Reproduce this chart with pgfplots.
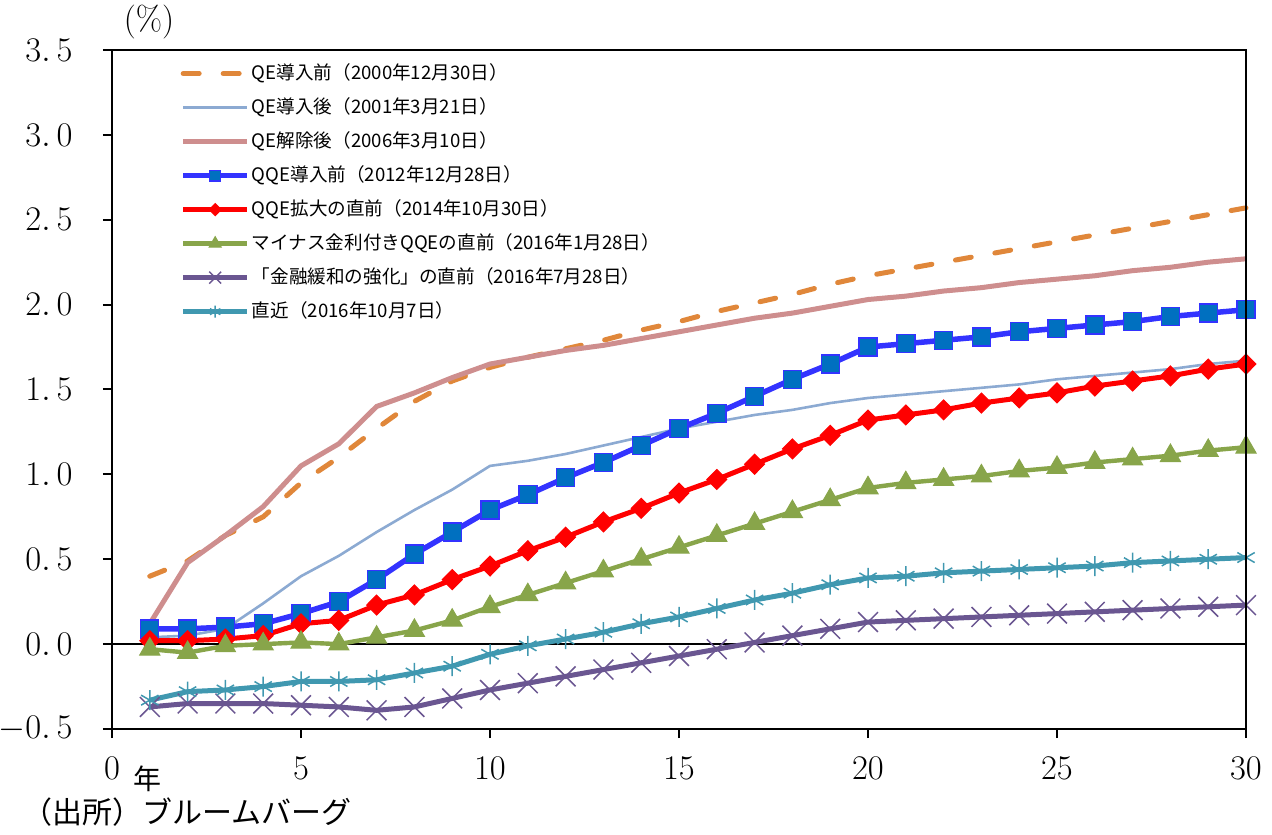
\documentclass[border=0pt]{standalone}
\usepackage{fontspec}
\usepackage{pgfplots}
\usepackage{pgfplotstable}
\pgfplotsset{compat=1.18}
\newfontfamily\cjk{Noto Sans CJK JP}

\definecolor{cOrange}{RGB}{224,135,58}
\definecolor{cLtBlue}{RGB}{140,170,210}
\definecolor{cPink}{RGB}{206,142,142}
\definecolor{cBlue}{RGB}{51,51,255}
\definecolor{cBlueFill}{RGB}{0,112,192}
\definecolor{cRed}{RGB}{255,0,0}
\definecolor{cGreen}{RGB}{136,165,74}
\definecolor{cPurple}{RGB}{106,86,145}
\definecolor{cCyan}{RGB}{64,152,176}

% 年限, 各時点の利回り (%)
\pgfplotstableread{
x  qeA   qeB   qeC   qqeA  qqeB  neg    mon    now
1  0.40  0.04  0.12  0.09  0.02  -0.03  -0.37  -0.33
2  0.49  0.05  0.48  0.09  0.02  -0.05  -0.35  -0.28
3  0.64  0.09  0.64  0.10  0.03  -0.01  -0.35  -0.27
4  0.75  0.24  0.81  0.12  0.05   0.00  -0.35  -0.25
5  0.95  0.40  1.05  0.18  0.12   0.01  -0.36  -0.22
6  1.10  0.52  1.18  0.25  0.14   0.00  -0.37  -0.22
7  1.27  0.66  1.40  0.38  0.23   0.04  -0.39  -0.21
8  1.43  0.79  1.48  0.53  0.29   0.08  -0.37  -0.17
9  1.55  0.91  1.57  0.66  0.38   0.14  -0.32  -0.13
10 1.63  1.05  1.65  0.79  0.46   0.22  -0.27  -0.06
11 1.69  1.08  1.69  0.88  0.55   0.29  -0.23  -0.01
12 1.74  1.12  1.73  0.98  0.63   0.36  -0.19   0.03
13 1.79  1.17  1.76  1.07  0.72   0.43  -0.15   0.07
14 1.85  1.22  1.80  1.17  0.80   0.50  -0.11   0.12
15 1.90  1.27  1.84  1.27  0.89   0.57  -0.07   0.16
16 1.96  1.31  1.88  1.36  0.97   0.64  -0.03   0.21
17 2.01  1.35  1.92  1.46  1.06   0.71   0.01   0.26
18 2.06  1.38  1.95  1.56  1.15   0.78   0.05   0.30
19 2.12  1.42  1.99  1.65  1.23   0.85   0.09   0.35
20 2.17  1.45  2.03  1.75  1.32   0.92   0.13   0.39
21 2.21  1.47  2.05  1.77  1.35   0.95   0.14   0.40
22 2.25  1.49  2.08  1.79  1.38   0.97   0.15   0.42
23 2.29  1.51  2.10  1.81  1.42   0.99   0.16   0.43
24 2.33  1.53  2.13  1.84  1.45   1.02   0.17   0.44
25 2.37  1.56  2.15  1.86  1.48   1.04   0.18   0.45
26 2.41  1.58  2.17  1.88  1.52   1.07   0.19   0.46
27 2.45  1.60  2.20  1.90  1.55   1.09   0.20   0.48
28 2.49  1.62  2.22  1.93  1.58   1.11   0.21   0.49
29 2.53  1.65  2.25  1.95  1.62   1.14   0.22   0.50
30 2.57  1.67  2.27  1.97  1.65   1.16   0.23   0.51
}\yields

\begin{document}
\begin{tikzpicture}
\begin{axis}[
    name=ax,
    scale only axis,
    width=567pt, height=339.5pt,
    xmin=0, xmax=30, ymin=-0.5, ymax=3.5,
    xtick={0,5,...,30},
    ytick={-0.5,0,...,3.5},
    yticklabels={{$-0.$\hspace{3pt}$5$},{$0.$\hspace{3pt}$0$},{$0.$\hspace{3pt}$5$},{$1.$\hspace{3pt}$0$},
                 {$1.$\hspace{3pt}$5$},{$2.$\hspace{3pt}$0$},{$2.$\hspace{3pt}$5$},{$3.$\hspace{3pt}$0$},{$3.$\hspace{3pt}$5$}},
    tick align=outside, tick pos=left,
    major tick length=4.5pt,
    axis line style={line width=1pt},
    every tick/.style={black, line width=1pt},
    ticklabel style={font=\fontsize{16}{18}\selectfont},
    yticklabel style={anchor=east, inner sep=0pt, xshift=-15pt},
    xticklabel style={anchor=north, inner sep=0pt, yshift=-9.5pt},
    clip=false,
    legend cell align=left,
    legend image code/.code={\draw[mark repeat=2, mark phase=2, every mark/.append style={scale=0.6}]
        plot coordinates {(0pt,0pt) (16pt,0pt) (32pt,0pt)};},
    legend style={draw=none, fill=none, at={(0.06,0.982)}, anchor=north west, inner sep=0pt,
        row sep=6pt, font=\cjk\fontsize{9.3}{10}\selectfont,
        nodes={inner sep=1pt, text height=7.5pt, text depth=1.5pt}},
]

% ゼロ線
\addplot[black, line width=0.8pt, forget plot] coordinates {(0,0) (30,0)};

\addplot[cOrange, line width=2.5pt, line cap=round, dash pattern=on 8pt off 12pt, no markers] table[x=x, y=qeA] {\yields};
\addlegendentry{QE導入前（2000年12月30日）}
\addplot[cLtBlue, line width=1.3pt, no markers] table[x=x, y=qeB] {\yields};
\addlegendentry{QE導入後（2001年3月21日）}
\addplot[cPink, line width=2.5pt, no markers] table[x=x, y=qeC] {\yields};
\addlegendentry{QE解除後（2006年3月10日）}
\addplot[cBlue, line width=2.75pt, mark=square*, mark size=4.5pt,
    mark options={fill=cBlueFill, draw=cBlue, line width=0.7pt}] table[x=x, y=qqeA] {\yields};
\addlegendentry{QQE導入前（2012年12月28日）}
\addplot[cRed, line width=2.5pt, mark=diamond*, mark size=5pt,
    mark options={fill=cRed, draw=cRed, line width=0.5pt, xscale=1.33}] table[x=x, y=qqeB] {\yields};
\addlegendentry{QQE拡大の直前（2014年10月30日）}
\addplot[cGreen, line width=2.2pt, mark=triangle*, mark size=5.8pt,
    mark options={fill=cGreen, draw=cGreen, line width=0.5pt}] table[x=x, y=neg] {\yields};
\addlegendentry{マイナス金利付きQQEの直前（2016年1月28日）}
\addplot[cPurple, line width=2.5pt, mark=x, mark size=7pt,
    mark options={draw=cPurple, line width=0.75pt}] table[x=x, y=mon] {\yields};
\addlegendentry{「金融緩和の強化」の直前（2016年7月28日）}
\addplot[cCyan, line width=2.5pt, mark=asterisk, mark size=5pt,
    mark options={draw=cCyan, line width=0.75pt}] table[x=x, y=now] {\yields};
\addlegendentry{直近（2016年10月7日）}

% 単位・注記
\node[font=\fontsize{17}{19}\selectfont, inner sep=0pt] at ([xshift=18.5pt, yshift=14pt]rel axis cs:0,1) {(\%)};
\node[font=\cjk\fontsize{14}{16}\selectfont, inner sep=0pt] at ([xshift=18pt, yshift=-25pt]rel axis cs:0,0) {年};
\node[font=\cjk\fontsize{15}{17}\selectfont, inner sep=0pt, anchor=west] at ([xshift=-45pt, yshift=-41.5pt]rel axis cs:0,0) {（出所）ブルームバーグ};
\end{axis}
% 枠
\draw[black, line width=1pt] (ax.south west) rectangle (ax.north east);
\pgfresetboundingbox
\path[use as bounding box] ([xshift=-56pt, yshift=-52.5pt]ax.south west) rectangle ([xshift=13pt, yshift=25pt]ax.north east);
\end{tikzpicture}
\end{document}
